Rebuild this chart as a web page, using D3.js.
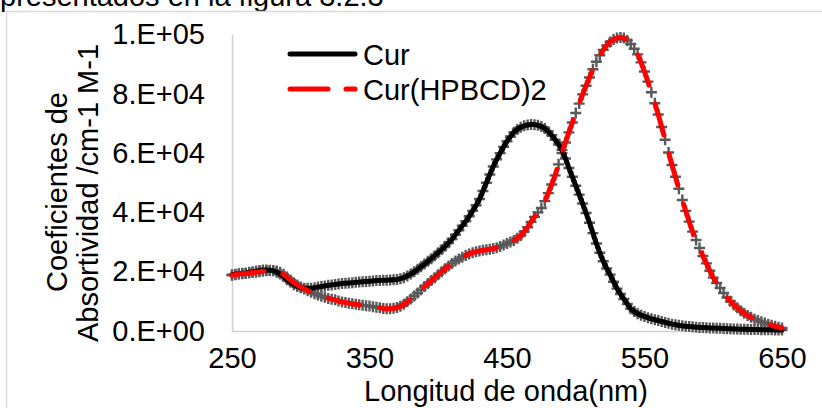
<!DOCTYPE html>
<html>
<head>
<meta charset="utf-8">
<script src="https://cdn.jsdelivr.net/npm/d3@7"></script>
<style>
  body { margin: 0; background: #fff; }
  svg { display: block; font-family: "Liberation Sans", Arial, sans-serif; }
</style>
</head>
<body>
<div id="chart"></div>
<script>
// Wavelength (nm), every 2.5 nm from 250 to 650.
const wavelengths = d3.range(0, 161).map(i => 250 + i * 2.5);

// Cur, absorptivity coefficient (cm-1 M-1).
const cur = [
  19000, 19150, 19300, 19450, 19600, 19800, 20000, 20200, 20400, 20550,
  20600, 20500, 20300, 19850, 19200, 18300, 17300, 16400, 15600, 15000,
  14600, 14450, 14400, 14450, 14600, 14800, 15000, 15200, 15400, 15550,
  15700, 15850, 16000, 16100, 16200, 16300, 16400, 16500, 16600, 16700,
  16800, 16900, 17000, 17050, 17100, 17150, 17200, 17280, 17400, 17650,
  18000, 18550, 19200, 19950, 20800, 21700, 22600, 23500, 24400, 25400,
  26400, 27500, 28600, 29750, 31000, 32450, 34000, 35500, 37000, 38700,
  40500, 42400, 44500, 47200, 50000, 52800, 55500, 57900, 60000, 62100,
  64000, 65600, 67000, 68000, 68700, 69200, 69500, 69650, 69600, 69400,
  69000, 68300, 67300, 66000, 64500, 62900, 61000, 58200, 55000, 52000,
  49000, 46000, 43000, 39800, 36500, 33000, 29500, 26400, 23500, 21100,
  19000, 16600, 14300, 12500, 10800, 9100, 7500, 6600, 5800, 5300,
  4900, 4500, 4100, 3800, 3500, 3200, 2900, 2600, 2300, 2100,
  1900, 1750, 1600, 1500, 1400, 1300, 1200, 1150, 1100, 1050,
  1000, 950, 900, 850, 800, 750, 700, 650, 600, 580,
  550, 520, 500, 480, 450, 420, 400, 380, 350, 320,
  300
];

// Cur(HPBCD)2, absorptivity coefficient (cm-1 M-1).
const curHpbcd = [
  18800, 19000, 19200, 19300, 19400, 19550, 19700, 19850, 20000, 20150,
  20300, 20400, 20400, 20200, 19800, 19100, 18200, 17200, 16300, 15500,
  14800, 14200, 13600, 13100, 12600, 12150, 11700, 11350, 11000, 10750,
  10500, 10150, 9800, 9600, 9400, 9200, 9000, 8850, 8700, 8550,
  8400, 8200, 8000, 7800, 7600, 7500, 7500, 7650, 7900, 8350,
  9000, 9850, 10800, 11800, 12800, 13900, 15000, 16000, 17000, 18000,
  19000, 20000, 21000, 21900, 22800, 23600, 24300, 24900, 25500, 26000,
  26400, 26700, 27000, 27200, 27400, 27600, 27800, 28100, 28500, 29000,
  29500, 30000, 30500, 31300, 32200, 33500, 35000, 36800, 38500, 40000,
  41500, 43800, 46500, 49400, 52500, 56200, 60000, 63600, 67000, 70300,
  73500, 76700, 79800, 82700, 85500, 88300, 90800, 93000, 94800, 96300,
  97500, 98300, 98800, 99000, 98800, 98000, 96800, 95200, 93300, 90600,
  87500, 84100, 80500, 76800, 73000, 68800, 64500, 60200, 56000, 52000,
  48000, 44200, 40500, 36900, 33500, 30700, 28000, 25300, 22800, 20300,
  18000, 16200, 14500, 12800, 11300, 10000, 8800, 7800, 6800, 6000,
  5200, 4600, 4000, 3500, 3100, 2700, 2300, 1950, 1600, 1300,
  1000
];

const seriesNames = ['Cur', 'Cur(HPBCD)2'];
const xTicks = [250, 350, 450, 550, 650];
const yTicks = [0, 20000, 40000, 60000, 80000, 100000];

const width = 822;
const height = 408;

let svg = d3.select('#chart')
  .append('svg')
  .attr('width', width)
  .attr('height', height);

// Text of the page above the chart, cut off at the top.
svg.append('text')
  .attr('x', 0)
  .attr('y', 6)
  .style('font-size', '29px')
  .text('presentados en la figura 3.2.3');

// Chart frame.
svg.append('rect')
  .attr('x', 6.5)
  .attr('y', 11.5)
  .attr('width', 840)
  .attr('height', 420)
  .attr('fill', '#fff')
  .attr('stroke', '#d9d9d9')
  .attr('stroke-width', 1.5);

let x = d3.scaleLinear().domain([250, 650]).range([232, 782]);
let y = d3.scaleLinear().domain([0, 100000]).range([331, 34.5]);

let xAxis = d3.axisBottom(x)
  .tickValues(xTicks)
  .tickSize(0)
  .tickPadding(16)
  .tickFormat(d3.format('d'));

let yAxis = d3.axisLeft(y)
  .tickValues(yTicks)
  .tickSize(0)
  .tickPadding(27)
  .tickFormat(t => t.toExponential(0).toUpperCase().replace('E', '.E').replace('+', '+0'));

let gx = svg.append('g')
  .attr('transform', `translate(0,${y(0)})`)
  .call(xAxis);

let gy = svg.append('g')
  .attr('transform', `translate(${x(250)},0)`)
  .call(yAxis);

for (let g of [gx, gy]) {
  g.select('.domain').attr('stroke', '#d0d0d0').attr('stroke-width', 1.5);
  g.selectAll('text')
    .attr('fill', '#000')
    .style('font-size', '29px')
    .style('font-family', '"Liberation Sans", Arial, sans-serif');
}

// Axis titles.
svg.append('text')
  .attr('x', 506)
  .attr('y', 401)
  .attr('text-anchor', 'middle')
  .style('font-size', '29px')
  .text('Longitud de onda(nm)');

svg.append('text')
  .attr('transform', 'translate(67,192) rotate(-90)')
  .attr('text-anchor', 'middle')
  .style('font-size', '29px')
  .text('Coeficientes de');

svg.append('text')
  .attr('transform', 'translate(98,193) rotate(-90)')
  .attr('text-anchor', 'middle')
  .style('font-size', '29px')
  .text('Absortividad /cm-1 M-1');

let series = [
  { name: seriesNames[0], values: cur, color: '#000', dash: null },
  { name: seriesNames[1], values: curHpbcd, color: '#ff0000', dash: '32,20' }
];

// Gray + markers at every data point.
const plus = 'M-5.5,0H5.5M0,-5.5V5.5';
for (let s of series) {
  svg.append('g')
    .selectAll('path')
    .data(wavelengths)
    .enter()
    .append('path')
      .attr('d', plus)
      .attr('transform', (d, i) => `translate(${x(d)},${y(s.values[i])})`)
      .attr('stroke', '#595959')
      .attr('stroke-width', 2.4)
      .attr('fill', 'none');
}

let line = d3.line()
  .x((d, i) => x(wavelengths[i]))
  .y(d => y(d))
  .curve(d3.curveCatmullRom);

for (let s of series) {
  svg.append('path')
    .datum(s.values)
    .attr('d', line)
    .attr('fill', 'none')
    .attr('stroke', s.color)
    .attr('stroke-width', 5)
    .attr('stroke-linecap', 'round')
    .attr('stroke-dasharray', s.dash);
}

// Legend.
let legend = svg.append('g')
  .selectAll('g')
  .data(series)
  .enter()
  .append('g')
    .attr('transform', (d, i) => `translate(0,${54 + i * 35})`);

legend.append('line')
  .attr('x1', 290)
  .attr('x2', 355)
  .attr('stroke', d => d.color)
  .attr('stroke-width', 5)
  .attr('stroke-linecap', 'round')
  .attr('stroke-dasharray', d => d.dash ? '38,18' : null);

legend.append('text')
  .attr('x', 363)
  .attr('y', 11)
  .style('font-size', '29px')
  .text(d => d.name);
</script>
</body>
</html>
